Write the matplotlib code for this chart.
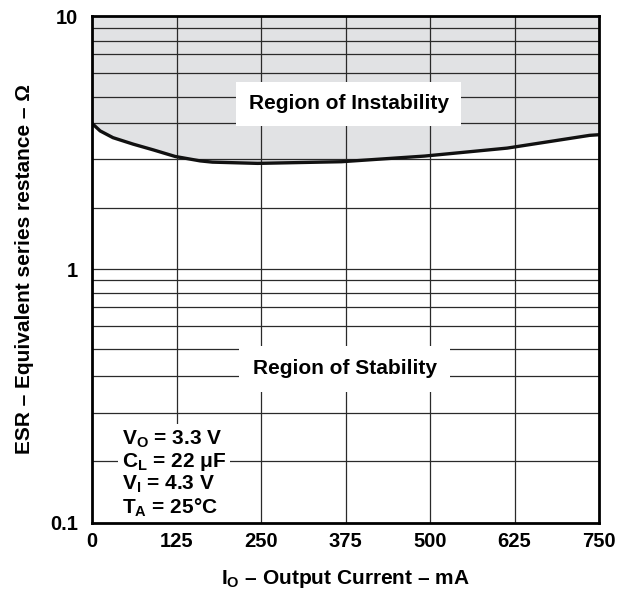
import numpy as np
import matplotlib
matplotlib.use('Agg')
import matplotlib.pyplot as plt
import matplotlib.ticker as ticker

plt.rcParams['font.family'] = ['Liberation Sans', 'DejaVu Sans']
plt.rcParams['font.weight'] = 'bold'
plt.rcParams['axes.labelweight'] = 'bold'
plt.rcParams['mathtext.fontset'] = 'custom'
plt.rcParams['mathtext.rm'] = 'Liberation Sans:bold'
plt.rcParams['mathtext.it'] = 'Liberation Sans:bold'
plt.rcParams['mathtext.bf'] = 'Liberation Sans:bold'

# stability boundary, ESR (ohm) vs output current (mA)
io_ma = [0, 12, 31, 61, 91, 123, 160, 178, 245, 369, 492, 614, 736, 750]
esr_limit = [3.77, 3.52, 3.31, 3.12, 2.96, 2.79, 2.68, 2.65, 2.62, 2.66, 2.80, 3.01, 3.38, 3.40]

x_ticks = [0, 125, 250, 375, 500, 625, 750]
y_ticks = [0.1, 1, 10]
y_tick_labels = ['0.1', '1', '10']
# horizontal rulings as printed on the chart
y_grid = [0.175, 0.272, 0.38, 0.483, 0.597, 0.71, 0.81, 0.905,
          1.75, 2.72, 3.78, 4.8, 5.95, 7.1, 8.0, 9.0]

conditions = ['V$_\\mathrm{O}$ = 3.3 V',
              'C$_\\mathrm{L}$ = 22 \u03bcF',
              'V$_\\mathrm{I}$ = 4.3 V',
              'T$_\\mathrm{A}$ = 25\u00b0C']

fig = plt.figure(figsize=(6.18, 5.89), dpi=100)
ax = fig.add_axes([0.1489, 0.1126, 0.8204, 0.8602])

ax.set_yscale('log')
ax.set_xlim(0, 750)
ax.set_ylim(0.1, 10)

# unstable region above the boundary
ax.fill_between(io_ma, esr_limit, 10, color='#e1e2e4', lw=0, zorder=1)

for v in y_grid + [1]:
    ax.axhline(v, color='#2a2a2a', lw=0.9, zorder=2)
for v in x_ticks[1:-1]:
    ax.axvline(v, color='#2a2a2a', lw=0.9, zorder=2)

ax.plot(io_ma, esr_limit, color='#111111', lw=2.4, zorder=4)

ax.set_xticks(x_ticks)
ax.set_yticks(y_ticks)
ax.set_yticklabels(y_tick_labels)
ax.yaxis.set_minor_locator(ticker.NullLocator())
ax.tick_params(length=0, labelsize=14.5)
ax.tick_params(axis='x', pad=7)
ax.tick_params(axis='y', pad=10)

for s in ax.spines.values():
    s.set_linewidth(2.0)
    s.set_zorder(6)

ax.text(380, 4.5, 'Region of Instability', fontsize=15, ha='center', va='center', zorder=5,
        bbox=dict(boxstyle='square,pad=0.6', fc='white', ec='none'))
ax.text(374, 0.405, 'Region of Stability', fontsize=15, ha='center', va='center', zorder=5,
        bbox=dict(boxstyle='square,pad=0.65', fc='white', ec='none'))

ax.text(44, 0.236, '\n'.join(conditions), fontsize=15, ha='left', va='top',
        linespacing=1.08, zorder=5,
        bbox=dict(boxstyle='square,pad=0.2', fc='white', ec='none'))

ax.set_xlabel('I$_\\mathrm{O}$ \u2013 Output Current \u2013 mA', fontsize=15, labelpad=12)
ax.set_ylabel('ESR \u2013 Equivalent series restance \u2013 \u03a9', fontsize=15, labelpad=12)

fig.savefig('out.png', dpi=100)
